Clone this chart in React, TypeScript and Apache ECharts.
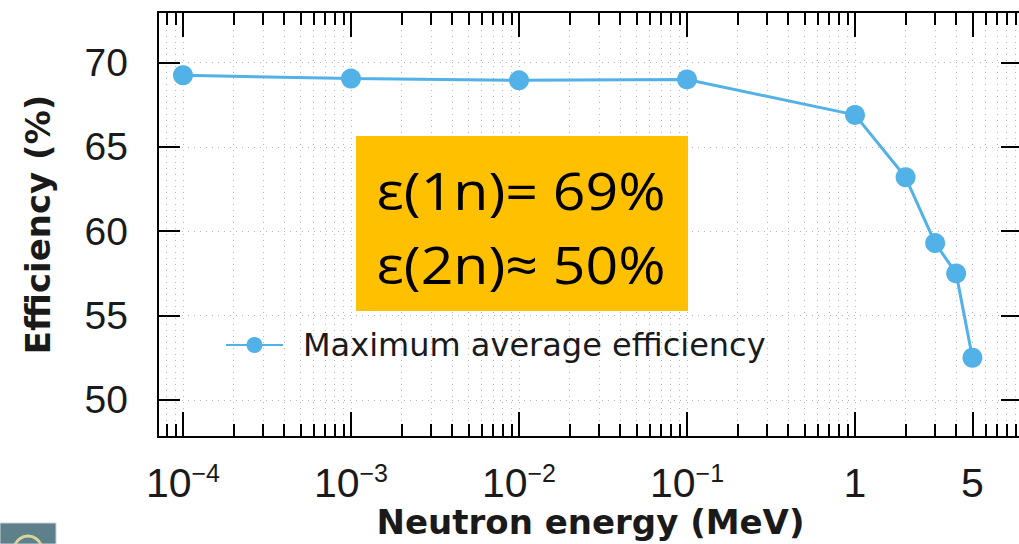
import React, { useEffect, useRef } from "react";
import * as echarts from "echarts";

// ---- data ----
const energies = [1e-4, 1e-3, 1e-2, 1e-1, 1, 2, 3, 4, 5]; // MeV
const efficiency = [69.25, 69.05, 68.95, 69.0, 66.9, 63.2, 59.3, 57.5, 52.5]; // %
const seriesName = "Maximum average efficiency";
const xMajorTicks = [1e-4, 1e-3, 1e-2, 1e-1, 1, 5];
const xMinorTicks = [
  8e-5, 9e-5,
  2e-4, 3e-4, 4e-4, 5e-4, 6e-4, 7e-4, 8e-4, 9e-4,
  2e-3, 3e-3, 4e-3, 5e-3, 6e-3, 7e-3, 8e-3, 9e-3,
  2e-2, 3e-2, 4e-2, 5e-2, 6e-2, 7e-2, 8e-2, 9e-2,
  0.2, 0.3, 0.4, 0.5, 0.6, 0.7, 0.8, 0.9,
  2, 3, 4, 6, 7, 8, 9,
];
const yTicks = [50, 55, 60, 65, 70];
const boxLines = ["ε(1n)= 69%", "ε(2n)≈ 50%"];

const X_MIN = 7.1e-5;
const X_MAX = 10;
const Y_MIN = 47.8;
const Y_MAX = 73;

const LABEL_FONT = "'Liberation Sans', Arial, sans-serif";
const DEJAVU = "'DejaVu Sans', sans-serif";
const BLUE = "#52b1e6";
const GRID_LINE = { show: true, lineStyle: { color: "#9a9a9a", width: 1, type: [1, 5] as any, opacity: 0.7 } };

function xLabel(v: number): string {
  if (v >= 1) return `{n|${Math.round(v)}}`;
  const e = Math.round(Math.log10(v));
  return `{n|10}{s|−${-e}}`;
}

function makeX(position: "top" | "bottom", ticks: number[], len: number, main: boolean, withLine: boolean) {
  return {
    type: "log",
    logBase: 10,
    min: X_MIN,
    max: X_MAX,
    position,
    axisLine: { show: withLine, onZero: false, lineStyle: { color: "#000", width: 2 } },
    axisTick: { show: true, inside: true, length: len, customValues: ticks, lineStyle: { color: "#000", width: 2 } },
    axisLabel: main
      ? {
          show: true,
          customValues: ticks,
          margin: 23,
          formatter: xLabel,
          rich: {
            n: { fontFamily: LABEL_FONT, fontSize: 41, color: "#1a1a1a", lineHeight: 46 },
            s: { fontFamily: LABEL_FONT, fontSize: 25, color: "#1a1a1a", lineHeight: 18, verticalAlign: "top" },
          },
        }
      : { show: false },
    splitLine: position === "bottom" ? GRID_LINE : { show: false },
    minorTick: { show: false },
    ...(main && position === "bottom"
      ? {
          name: "Neutron energy (MeV)",
          nameLocation: "middle",
          nameGap: 67,
          nameMoveOverlap: false,
          nameTextStyle: { fontFamily: DEJAVU, fontWeight: "bold", fontSize: 34, lineHeight: 36, color: "#1a1a1a" },
        }
      : {}),
  };
}

export default function App() {
  const ref = useRef<HTMLDivElement>(null);
  useEffect(() => {
    if (!ref.current) return;
    const chart = echarts.init(ref.current, undefined, { renderer: "svg" });
    const option: any = {
      animation: false,
      backgroundColor: "#fff",
      grid: {
        left: 158,
        top: 12,
        width: 865,
        height: 425,
        show: false,
        containLabel: false,
        outerBoundsMode: "none",
      },
      legend: {
        data: [seriesName],
        left: 225,
        top: 329,
        padding: 0,
        itemWidth: 57,
        itemHeight: 20,
        textStyle: { fontFamily: DEJAVU, fontSize: 32, color: "#1a1a1a", padding: [0, 0, 0, 15] },
      },
      xAxis: [
        makeX("bottom", xMajorTicks, 25, true, true),
        makeX("bottom", xMinorTicks, 13, false, false),
        makeX("top", xMajorTicks, 25, false, true),
        makeX("top", xMinorTicks, 13, false, false),
      ],
      yAxis: [
        {
          type: "value",
          min: Y_MIN,
          max: Y_MAX,
          position: "left",
          axisLine: { show: true, onZero: false, lineStyle: { color: "#000", width: 2 } },
          axisTick: { show: true, inside: true, length: 22, customValues: yTicks, lineStyle: { color: "#000", width: 2 } },
          axisLabel: {
            show: true,
            customValues: yTicks,
            margin: 30,
            fontFamily: LABEL_FONT,
            fontSize: 39,
            color: "#1a1a1a",
          },
          splitLine: GRID_LINE,
          name: "Efficiency (%)",
          nameLocation: "middle",
          nameGap: 103,
          nameMoveOverlap: false,
          nameTextStyle: { fontFamily: DEJAVU, fontWeight: "bold", fontSize: 34, color: "#1a1a1a" },
        },
        {
          type: "value",
          min: Y_MIN,
          max: Y_MAX,
          position: "right",
          axisLine: { show: true, onZero: false, lineStyle: { color: "#000", width: 2 } },
          axisTick: { show: true, inside: true, length: 22, customValues: yTicks, lineStyle: { color: "#000", width: 2 } },
          axisLabel: { show: false },
          splitLine: { show: false },
        },
      ],
      series: [
        {
          name: seriesName,
          type: "line",
          xAxisIndex: 0,
          yAxisIndex: 0,
          data: energies.map((e, i) => [e, efficiency[i]]),
          symbol: "circle",
          symbolSize: 20,
          itemStyle: { color: BLUE },
          lineStyle: { color: BLUE, width: 3 },
          z: 5,
        },
      ],
      graphic: [
        {
          type: "rect",
          z: 100,
          shape: { x: 356, y: 136, width: 332, height: 175 },
          style: { fill: "#FFC000" },
        },
        {
          type: "text",
          z: 101,
          x: 521,
          y: 190,
          scaleX: 1.1,
          style: {
            text: boxLines[0],
            fontFamily: "'Open Sans', sans-serif",
            fontSize: 52,
            fill: "#000",
            align: "center",
            verticalAlign: "middle",
          },
        },
        {
          type: "text",
          z: 101,
          x: 521,
          y: 264,
          scaleX: 1.1,
          style: {
            text: boxLines[1],
            fontFamily: "'Open Sans', sans-serif",
            fontSize: 52,
            fill: "#000",
            align: "center",
            verticalAlign: "middle",
          },
        },
        {
          type: "rect",
          z: 100,
          shape: { x: 0, y: 523, width: 56, height: 21 },
          style: { fill: "#5e808b", stroke: "#c9d3d6", lineWidth: 1 },
        },
        {
          type: "arc",
          z: 101,
          shape: { cx: 28, cy: 550, r: 14, startAngle: Math.PI * 1.1, endAngle: Math.PI * 1.9 },
          style: { stroke: "#d8d49a", lineWidth: 3, fill: "none" },
        },
      ],
    };
    chart.setOption(option);
    return () => chart.dispose();
  }, []);
  return (
    <div
      ref={ref}
      style={{ position: "fixed", left: 0, top: 0, width: 1019, height: 544, background: "#fff" }}
    />
  );
}
